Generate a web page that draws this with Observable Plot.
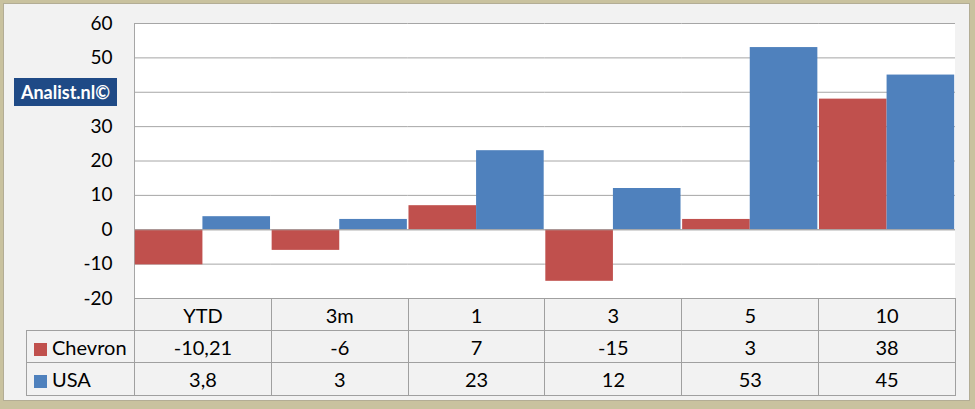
<!DOCTYPE html>
<html>
<head>
<meta charset="utf-8">
<script src="https://cdn.jsdelivr.net/npm/d3@7"></script>
<script src="https://cdn.jsdelivr.net/npm/@observablehq/plot@0.6"></script>
<style>
  html, body { margin: 0; padding: 0; background: #fff; }
  #wrap { position: relative; width: 975px; height: 409px; background: #c9c29f; overflow: hidden; font-family: Lato, "Open Sans", sans-serif; }
  #panel { position: absolute; left: 3px; top: 3px; width: 967px; height: 398px; box-sizing: border-box; background: #f2f2f2; border: 1px solid #b3ad95; }
  #plotbg { position: absolute; left: 134px; top: 23px; width: 821px; height: 275px; box-sizing: border-box; background: #fff; border-left: 1px solid #a6a6a6; }
  #chart { position: absolute; left: 0; top: 0; }
  #tbl { position: absolute; left: 26px; top: 298px; border-collapse: collapse; table-layout: fixed; font-size: 20px; color: #000; }
  #tbl td { border: 1px solid #a0a0a0; text-align: center; padding: 0; white-space: nowrap; }
  #tbl td.corner { border-top: none; border-left: none; }
  #tbl td.name { text-align: left; padding-left: 7px; }
  .sw { display: inline-block; width: 13px; height: 13px; margin-right: 5px; vertical-align: -1px; }
  #badge { position: absolute; left: 14px; top: 78px; width: 103px; height: 28px; background: #1f4a86; color: #fff; font-weight: bold; font-size: 18px; line-height: 28px; text-align: center; white-space: nowrap; }
</style>
</head>
<body>
<div id="wrap">
  <div id="panel"></div>
  <div id="plotbg"></div>
  <div id="chart"></div>
  <table id="tbl"></table>
  <div id="badge">Analist.nl©</div>
</div>
<script>
const categories = ["YTD", "3m", "1", "3", "5", "10"];
const seriesNames = ["Chevron", "USA"];
const chevron = [-10.21, -6, 7, -15, 3, 38];
const usa = [3.8, 3, 23, 12, 53, 45];
const yGrid = [-20, -10, 0, 10, 20, 30, 40, 50, 60];
const yTickLabels = [-20, -10, 0, 10, 20, 30, 50, 60]; // 40 is hidden behind the badge
const seriesColors = ["#c0504d", "#4f81bd"];

const seriesValues = [chevron, usa];
const data = categories.flatMap((c, i) =>
  seriesNames.map((s, j) => ({category: c, series: s, value: seriesValues[j][i]}))
);

const W = 975, plotLeft = 134, plotRight = 955, plotTop = 23, plotBottom = 298;

const chart = Plot.plot({
  width: W,
  height: plotBottom + 1,
  marginTop: plotTop,
  marginBottom: 1,
  marginLeft: plotLeft,
  marginRight: W - plotRight,
  style: {background: "transparent", fontFamily: "Lato, 'Open Sans', sans-serif", fontSize: "19px", color: "#000", overflow: "visible"},
  fx: {domain: categories, padding: 0, round: false, axis: null},
  x: {domain: seriesNames, paddingInner: 0, paddingOuter: 0.012, round: false, axis: null},
  y: {domain: [-20, 60], ticks: yTickLabels, tickSize: 0, tickPadding: 22, label: null, tickFormat: d => String(d)},
  color: {domain: seriesNames, range: seriesColors},
  marks: [
    Plot.ruleY(yGrid, {stroke: "#a6a6a6", strokeWidth: 1}),
    Plot.barY(data, {fx: "category", x: "series", y: "value", fill: "series"}),
    Plot.ruleY([0], {stroke: "#a6a6a6", strokeWidth: 1})
  ]
});
document.getElementById("chart").appendChild(chart);

// data table beneath the chart
const fmt = v => String(v).replace(".", ",");
const colW = (plotRight - plotLeft) / categories.length;
const tbl = document.getElementById("tbl");
const colgroup = document.createElement("colgroup");
const c0 = document.createElement("col");
c0.style.width = (plotLeft - 26) + "px";
colgroup.appendChild(c0);
categories.forEach(() => {
  const c = document.createElement("col");
  c.style.width = colW + "px";
  colgroup.appendChild(c);
});
tbl.appendChild(colgroup);
tbl.style.width = (plotRight - 26) + "px";

const head = document.createElement("tr");
head.style.height = "32px";
const corner = document.createElement("td");
corner.className = "corner";
head.appendChild(corner);
categories.forEach(c => {
  const td = document.createElement("td");
  td.textContent = c;
  head.appendChild(td);
});
tbl.appendChild(head);

seriesNames.forEach((s, j) => {
  const tr = document.createElement("tr");
  tr.style.height = j === 0 ? "32px" : "33px";
  const name = document.createElement("td");
  name.className = "name";
  const sw = document.createElement("span");
  sw.className = "sw";
  sw.style.background = seriesColors[j];
  name.appendChild(sw);
  name.appendChild(document.createTextNode(s));
  tr.appendChild(name);
  seriesValues[j].forEach(v => {
    const td = document.createElement("td");
    td.textContent = fmt(v);
    tr.appendChild(td);
  });
  tbl.appendChild(tr);
});
</script>
</body>
</html>
